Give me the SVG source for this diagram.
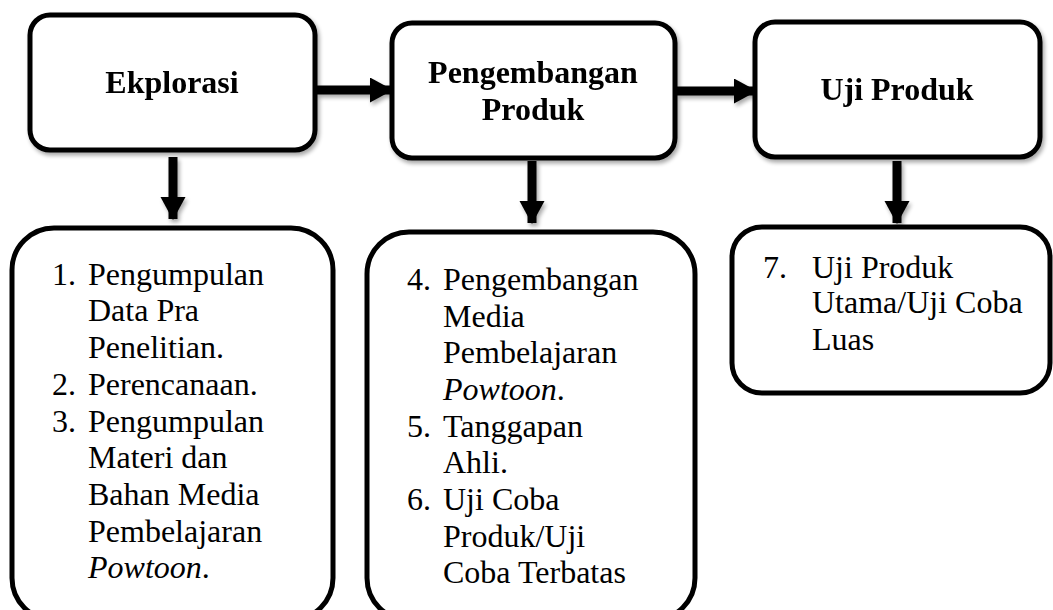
<svg xmlns="http://www.w3.org/2000/svg" width="1053" height="610" viewBox="0 0 1053 610">
<style>
.box{fill:#fff;stroke:#000;stroke-width:5}
.t{font-family:"Liberation Serif","Times New Roman",serif;font-size:32px;fill:#000}
.b{font-weight:bold;text-anchor:middle}
.arr{stroke:#000;stroke-width:9;fill:none}
</style>
<defs>
<filter id="sh" x="-10%" y="-10%" width="130%" height="130%">
<feGaussianBlur in="SourceAlpha" stdDeviation="2"/>
<feOffset dx="2" dy="3" result="o"/>
<feComponentTransfer><feFuncA type="linear" slope="0.35"/></feComponentTransfer>
<feMerge><feMergeNode/><feMergeNode in="SourceGraphic"/></feMerge>
</filter>
<marker id="ah" markerUnits="userSpaceOnUse" markerWidth="24" markerHeight="26" refX="22" refY="12.5" orient="auto">
<path d="M0,0 L23,12.5 L0,25 z" fill="#000"/>
</marker>
</defs>
<rect width="1053" height="610" fill="#fff"/>
<g id="connectors" filter="url(#sh)">
<line class="arr" x1="317" y1="90" x2="392" y2="90" marker-end="url(#ah)"/>
<line class="arr" x1="677" y1="91" x2="756" y2="91" marker-end="url(#ah)"/>
<line class="arr" x1="173" y1="157" x2="173" y2="219" marker-end="url(#ah)"/>
<line class="arr" x1="532" y1="161" x2="532" y2="223" marker-end="url(#ah)"/>
<line class="arr" x1="897" y1="161" x2="897" y2="223" marker-end="url(#ah)"/>
</g>
<g id="ekplorasi" filter="url(#sh)">
<rect class="box" x="30" y="15" width="285" height="135" rx="20"/>
<text class="t b" x="172" y="93">Ekplorasi</text>
</g>
<g id="pengembangan" filter="url(#sh)">
<rect class="box" x="392" y="23" width="283" height="135" rx="20"/>
<text class="t b" x="533" y="83">Pengembangan</text>
<text class="t b" x="533" y="120">Produk</text>
</g>
<g id="uji" filter="url(#sh)">
<rect class="box" x="755" y="22" width="285" height="135" rx="20"/>
<text class="t b" x="897" y="100">Uji Produk</text>
</g>
<g id="list1">
<rect class="box" x="12" y="228" width="321" height="392" rx="42"/>
<text class="t" x="52" y="285">1.</text>
<text class="t" x="88" y="285">Pengumpulan</text>
<text class="t" x="88" y="321">Data Pra</text>
<text class="t" x="88" y="358">Penelitian.</text>
<text class="t" x="52" y="395">2.</text>
<text class="t" x="88" y="395">Perencanaan.</text>
<text class="t" x="52" y="432">3.</text>
<text class="t" x="88" y="432">Pengumpulan</text>
<text class="t" x="88" y="468">Materi dan</text>
<text class="t" x="88" y="505">Bahan Media</text>
<text class="t" x="88" y="542">Pembelajaran</text>
<text class="t" x="88" y="578"><tspan font-style="italic">Powtoon</tspan>.</text>
</g>
<g id="list2">
<rect class="box" x="367" y="232" width="328" height="388" rx="42"/>
<text class="t" x="407" y="290">4.</text>
<text class="t" x="443" y="290">Pengembangan</text>
<text class="t" x="443" y="327">Media</text>
<text class="t" x="443" y="363">Pembelajaran</text>
<text class="t" x="443" y="400"><tspan font-style="italic">Powtoon</tspan>.</text>
<text class="t" x="407" y="437">5.</text>
<text class="t" x="443" y="437">Tanggapan</text>
<text class="t" x="443" y="473">Ahli.</text>
<text class="t" x="407" y="510">6.</text>
<text class="t" x="443" y="510">Uji Coba</text>
<text class="t" x="443" y="547">Produk/Uji</text>
<text class="t" x="443" y="583">Coba Terbatas</text>
</g>
<g id="list3">
<rect class="box" x="732" y="227" width="318" height="166" rx="30"/>
<text class="t" x="763" y="278">7.</text>
<text class="t" x="812" y="278">Uji Produk</text>
<text class="t" x="812" y="313">Utama/Uji Coba</text>
<text class="t" x="812" y="350">Luas</text>
</g>
</svg>
